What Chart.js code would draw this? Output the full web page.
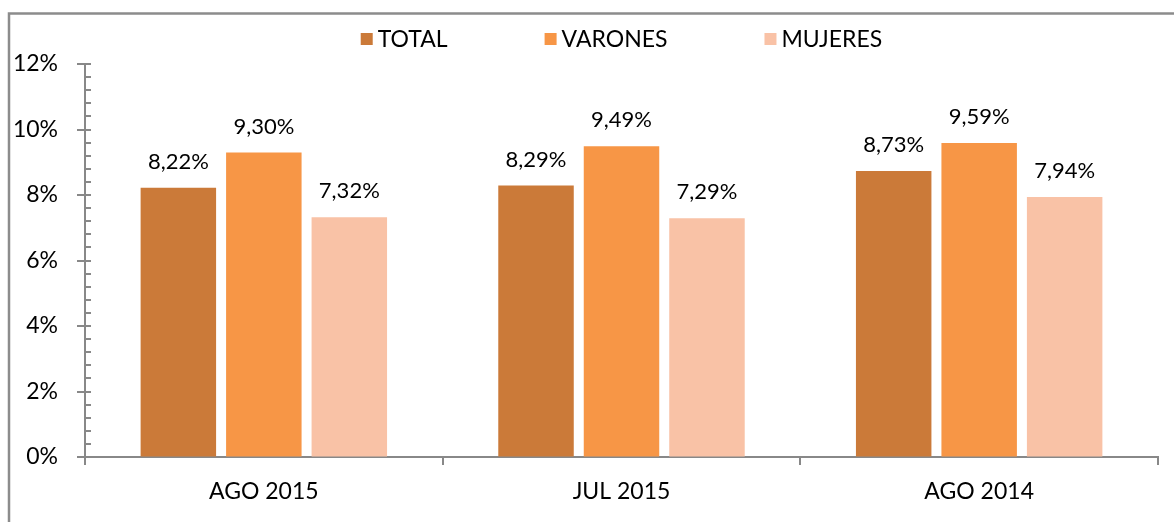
<!DOCTYPE html>
<html><head><meta charset="utf-8">
<script src="https://cdn.jsdelivr.net/npm/chart.js@4.4.0/dist/chart.umd.min.js"></script>
<style>html,body{margin:0;padding:0;background:#fff;overflow:hidden}canvas{display:block}</style>
</head><body><canvas id="c" width="1174" height="522"></canvas>
<script>
const categories = ['AGO 2015', 'JUL 2015', 'AGO 2014'];
const seriesNames = ['TOTAL', 'VARONES', 'MUJERES'];
const totalValues = [8.22, 8.29, 8.73];
const varonesValues = [9.30, 9.49, 9.59];
const mujeresValues = [7.32, 7.29, 7.94];
const yTickValues = [0, 2, 4, 6, 8, 10, 12];
const yMinorStep = 0.4;

const colors = ['#cb7a39', '#f79646', '#f9c2a6'];
const FONT = 'Lato, "Open Sans", sans-serif';
const FS = 23;
const FS_LABEL = 22;
const AXIS = '#888888';

const fmt = v => v.toFixed(2).replace('.', ',') + '%';

const framePlugin = {
  id: 'frame',
  beforeDraw(chart) {
    const ctx = chart.ctx;
    ctx.save();
    ctx.fillStyle = '#fff';
    ctx.fillRect(0, 0, chart.width, chart.height);
    ctx.strokeStyle = '#8c8c8c';
    ctx.lineWidth = 2.5;
    ctx.strokeRect(9, 13.5, chart.width + 20, chart.height + 20);
    ctx.restore();
  }
};

const yTicksPlugin = {
  id: 'yTicks',
  afterDraw(chart) {
    const y = chart.scales.y, ctx = chart.ctx, left = chart.chartArea.left;
    ctx.save();
    ctx.strokeStyle = AXIS;
    ctx.lineWidth = 2;
    const n = Math.round((y.max - y.min) / yMinorStep);
    for (let i = 0; i <= n; i++) {
      const v = y.min + i * yMinorStep;
      const py = Math.round(y.getPixelForValue(v));
      ctx.beginPath();
      ctx.moveTo(left, py);
      ctx.lineTo(left + 6, py);
      ctx.stroke();
    }
    yTickValues.forEach(v => {
      const py = Math.round(y.getPixelForValue(v));
      ctx.beginPath();
      ctx.moveTo(left - 8, py);
      ctx.lineTo(left + 6, py);
      ctx.stroke();
    });
    ctx.restore();
  }
};

const labelsPlugin = {
  id: 'valLabels',
  afterDatasetsDraw(chart) {
    const ctx = chart.ctx;
    ctx.save();
    ctx.font = FS_LABEL + 'px ' + FONT;
    ctx.fillStyle = '#000';
    ctx.textAlign = 'center';
    ctx.textBaseline = 'middle';
    chart.data.datasets.forEach((ds, di) => {
      chart.getDatasetMeta(di).data.forEach((bar, i) => {
        ctx.fillText(fmt(ds.data[i]), bar.x, bar.y - 26);
      });
    });
    ctx.restore();
  }
};

const legendPlugin = {
  id: 'customLegend',
  afterDraw(chart) {
    const ctx = chart.ctx, ca = chart.chartArea;
    ctx.save();
    ctx.font = FS + 'px ' + FONT;
    const box = 12, gapText = 5, gapItem = 97;
    const widths = chart.data.datasets.map(d => box + gapText + ctx.measureText(d.label).width);
    const total = widths.reduce((a, b) => a + b, 0) + gapItem * (widths.length - 1);
    let x = (ca.left + ca.right) / 2 - total / 2;
    const cy = 39;
    ctx.textBaseline = 'middle';
    ctx.textAlign = 'left';
    chart.data.datasets.forEach((d, i) => {
      ctx.fillStyle = d.backgroundColor;
      ctx.fillRect(x, cy - 6, box, box);
      ctx.fillStyle = '#000';
      ctx.fillText(d.label, x + box + gapText, cy + 1);
      x += widths[i] + gapItem;
    });
    ctx.restore();
  }
};

new Chart(document.getElementById('c'), {
  type: 'bar',
  data: {
    labels: categories,
    datasets: [
      { label: seriesNames[0], data: totalValues, backgroundColor: colors[0] },
      { label: seriesNames[1], data: varonesValues, backgroundColor: colors[1] },
      { label: seriesNames[2], data: mujeresValues, backgroundColor: colors[2] }
    ]
  },
  options: {
    responsive: false,
    animation: false,
    categoryPercentage: 0.717,
    barPercentage: 0.883,
    layout: { padding: { top: 64, right: 16, left: 0, bottom: 0 } },
    plugins: { legend: { display: false }, tooltip: { enabled: false } },
    scales: {
      x: {
        afterFit(s) { s.height = 65; },
        grid: { display: true, drawOnChartArea: false, drawTicks: true, tickLength: 8, color: AXIS, lineWidth: 2, offset: true },
        border: { display: true, color: AXIS, width: 2 },
        ticks: { color: '#000', font: { family: FONT, size: FS }, padding: 13, maxRotation: 0 }
      },
      y: {
        min: 0, max: 12,
        afterFit(s) { s.width = 85; },
        grid: { display: true, drawOnChartArea: false, drawTicks: false },
        border: { display: true, color: AXIS, width: 2 },
        ticks: { stepSize: 2, color: '#000', font: { family: FONT, size: FS }, padding: 27, callback: v => v + '%' }
      }
    }
  },
  plugins: [framePlugin, yTicksPlugin, labelsPlugin, legendPlugin]
});
</script>
</body></html>
